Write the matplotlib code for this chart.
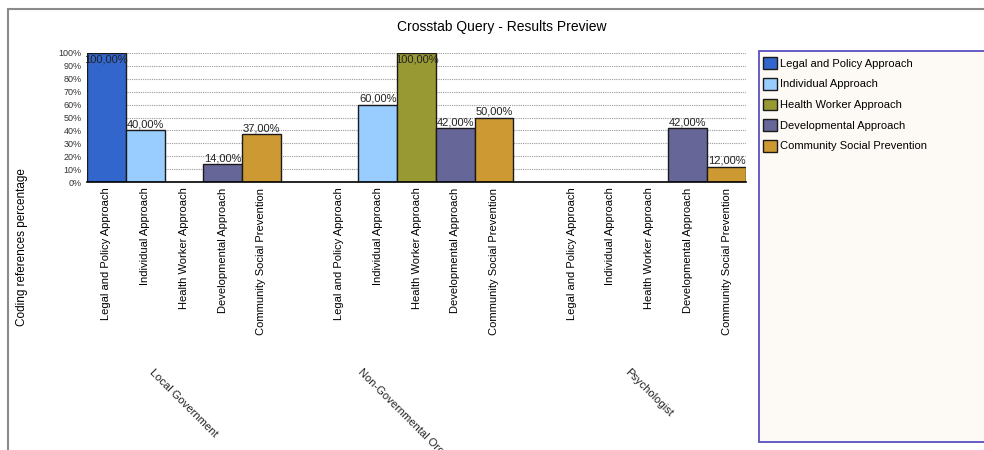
import matplotlib
matplotlib.use("Agg")
import matplotlib.pyplot as plt
from matplotlib.patches import Patch, Rectangle

plt.rcParams["font.family"] = ["Liberation Sans", "DejaVu Sans"]

groups = ["Local Government", "Non-Governmental Organization", "Psychologist"]
approaches = [
    "Legal and Policy Approach",
    "Individual Approach",
    "Health Worker Approach",
    "Developmental Approach",
    "Community Social Prevention",
]
colors = ["#3366CC", "#99CCFF", "#999933", "#666699", "#CC9933"]

# percentage of coding references, one row per group
values = [
    [100, 40, 0, 14, 37],
    [0, 60, 100, 42, 50],
    [0, 0, 0, 42, 12],
]
y_ticks = list(range(0, 101, 10))

W, H = 984, 450
fig = plt.figure(figsize=(W / 100, H / 100), dpi=100)


def fx(px):
    return px / W


def fy(py):
    return 1 - py / H


# outer panel frame
fig.add_artist(Rectangle((fx(7.5), -0.1), 1.2, fy(9.5) + 0.1, transform=fig.transFigure,
                         facecolor="none", edgecolor="#8a8a8a", linewidth=1.5))

ax = fig.add_axes([fx(87), fy(182), fx(746) - fx(87), fy(53) - fy(182)])

slot = 6  # five bars per group plus one empty slot between groups
positions, labels = [], []
for g, row in enumerate(values):
    for i, v in enumerate(row):
        x = g * slot + i
        positions.append(x)
        labels.append(approaches[i])
        if v > 0:
            ax.bar(x, v, width=1.0, color=colors[i], edgecolor="#1a1a1a",
                   linewidth=1.0, zorder=3)
            txt = f"{v:.2f}".replace(".", ",") + "%"
            if v >= 95:
                ax.text(x, v - 1.5, txt, ha="center", va="top", fontsize=8,
                        color="#222222", zorder=4)
            else:
                ax.text(x, v + 0.5, txt, ha="center", va="bottom", fontsize=8,
                        color="#222222", zorder=4)

ax.set_xlim(-0.5, 2 * slot + 4.5)
ax.set_ylim(0, 100)
ax.set_yticks(y_ticks)
ax.set_yticklabels([f"{t}%" for t in y_ticks], fontsize=6.5, color="#333333")
ax.set_xticks(positions)
ax.set_xticklabels(labels, rotation=90, fontsize=8, va="top", ha="center")
ax.tick_params(axis="both", length=0)
ax.tick_params(axis="x", pad=4)
ax.tick_params(axis="y", pad=4)
ax.grid(axis="y", linestyle=(0, (1, 1)), color="#9a9a9a", linewidth=0.8, zorder=0)
for side in ("top", "right", "left"):
    ax.spines[side].set_visible(False)
ax.spines["bottom"].set_linewidth(1.2)
ax.spines["bottom"].set_zorder(5)

# group names under the category labels
for g, name in enumerate(groups):
    gx = ax.transData.transform((g * slot + 2, 0))[0]
    fig.text(gx / W, fy(367), name, rotation=-45, ha="center", va="top",
             fontsize=8, color="#222222")

fig.text(fx(502), fy(27), "Crosstab Query - Results Preview", ha="center",
         va="center", fontsize=10)
fig.text(fx(22), fy(247), "Coding references percentage", rotation=90,
         ha="center", va="center", fontsize=8.5)

# legend panel
fig.add_artist(Rectangle((fx(758.5), fy(442)), 0.5, fy(51) - fy(442),
                         transform=fig.transFigure, facecolor="#FDFAF5",
                         edgecolor="#5a50c0", linewidth=1.3))
handles = [Patch(facecolor=c, edgecolor="#1a1a1a", linewidth=1.0) for c in colors]
fig.legend(handles, approaches, loc="upper left",
           bbox_to_anchor=(fx(761), fy(55)), frameon=False, fontsize=8,
           handlelength=1.25, handleheight=1.25, handletextpad=0.25,
           labelspacing=0.8, borderpad=0.2, borderaxespad=0)

fig.savefig("out.png", dpi=100)
